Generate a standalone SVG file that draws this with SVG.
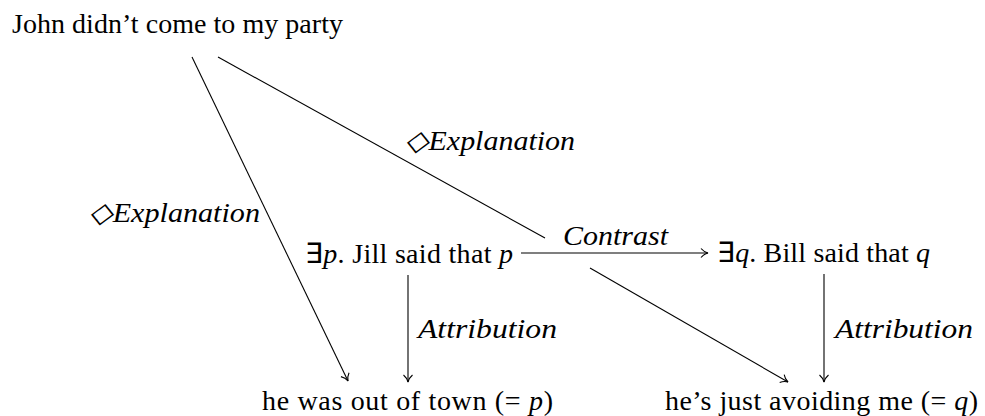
<svg xmlns="http://www.w3.org/2000/svg" width="985" height="416" viewBox="0 0 985 416">
<style>
.t{font-family:"Liberation Serif","Times New Roman",serif;font-size:28px;fill:#000}
.m{font-family:"Liberation Serif","Times New Roman",serif;font-size:28px;font-style:italic;fill:#000}
.e{stroke:#000;stroke-width:1.1;fill:none}
</style>
<defs>
<marker id="ah" markerWidth="12" markerHeight="12" refX="10" refY="6" orient="auto" markerUnits="userSpaceOnUse">
<path d="M3,1.5 Q6,5 10,6 Q6,7 3,10.5" fill="none" stroke="#000" stroke-width="1.1"/>
</marker>
</defs>
<rect width="985" height="416" fill="#fff"/>
<g id="connectors">
<line class="e" x1="192" y1="57" x2="348" y2="381" marker-end="url(#ah)"/>
<line class="e" x1="218" y1="57" x2="545" y2="238"/>
<line class="e" x1="521" y1="253" x2="708" y2="253" marker-end="url(#ah)"/>
<line class="e" x1="590" y1="268" x2="788" y2="382" marker-end="url(#ah)"/>
<line class="e" x1="408" y1="275" x2="408" y2="382" marker-end="url(#ah)"/>
<line class="e" x1="824" y1="274" x2="824" y2="382" marker-end="url(#ah)"/>
<text class="m" x="405" y="150" textLength="170" lengthAdjust="spacingAndGlyphs">◇Explanation</text>
<text class="m" x="89" y="222" textLength="171" lengthAdjust="spacingAndGlyphs">◇Explanation</text>
<text class="m" x="563" y="245" textLength="105" lengthAdjust="spacingAndGlyphs">Contrast</text>
<text class="m" x="418" y="338" textLength="139" lengthAdjust="spacingAndGlyphs">Attribution</text>
<text class="m" x="835" y="338" textLength="138" lengthAdjust="spacingAndGlyphs">Attribution</text>
</g>
<g id="john"><text class="t" x="12" y="33" textLength="331">John didn’t come to my party</text></g>
<g id="jill"><text class="t" x="305" y="263" textLength="208">∃<tspan font-style="italic">p</tspan>. Jill said that <tspan font-style="italic">p</tspan></text></g>
<g id="bill"><text class="t" x="717" y="262" textLength="213">∃<tspan font-style="italic">q</tspan>. Bill said that <tspan font-style="italic">q</tspan></text></g>
<g id="outoftown"><text class="t" x="262" y="410" textLength="291">he was out of town (= <tspan font-style="italic">p</tspan>)</text></g>
<g id="avoiding"><text class="t" x="665" y="410" textLength="313">he’s just avoiding me (= <tspan font-style="italic">q</tspan>)</text></g>
</svg>
